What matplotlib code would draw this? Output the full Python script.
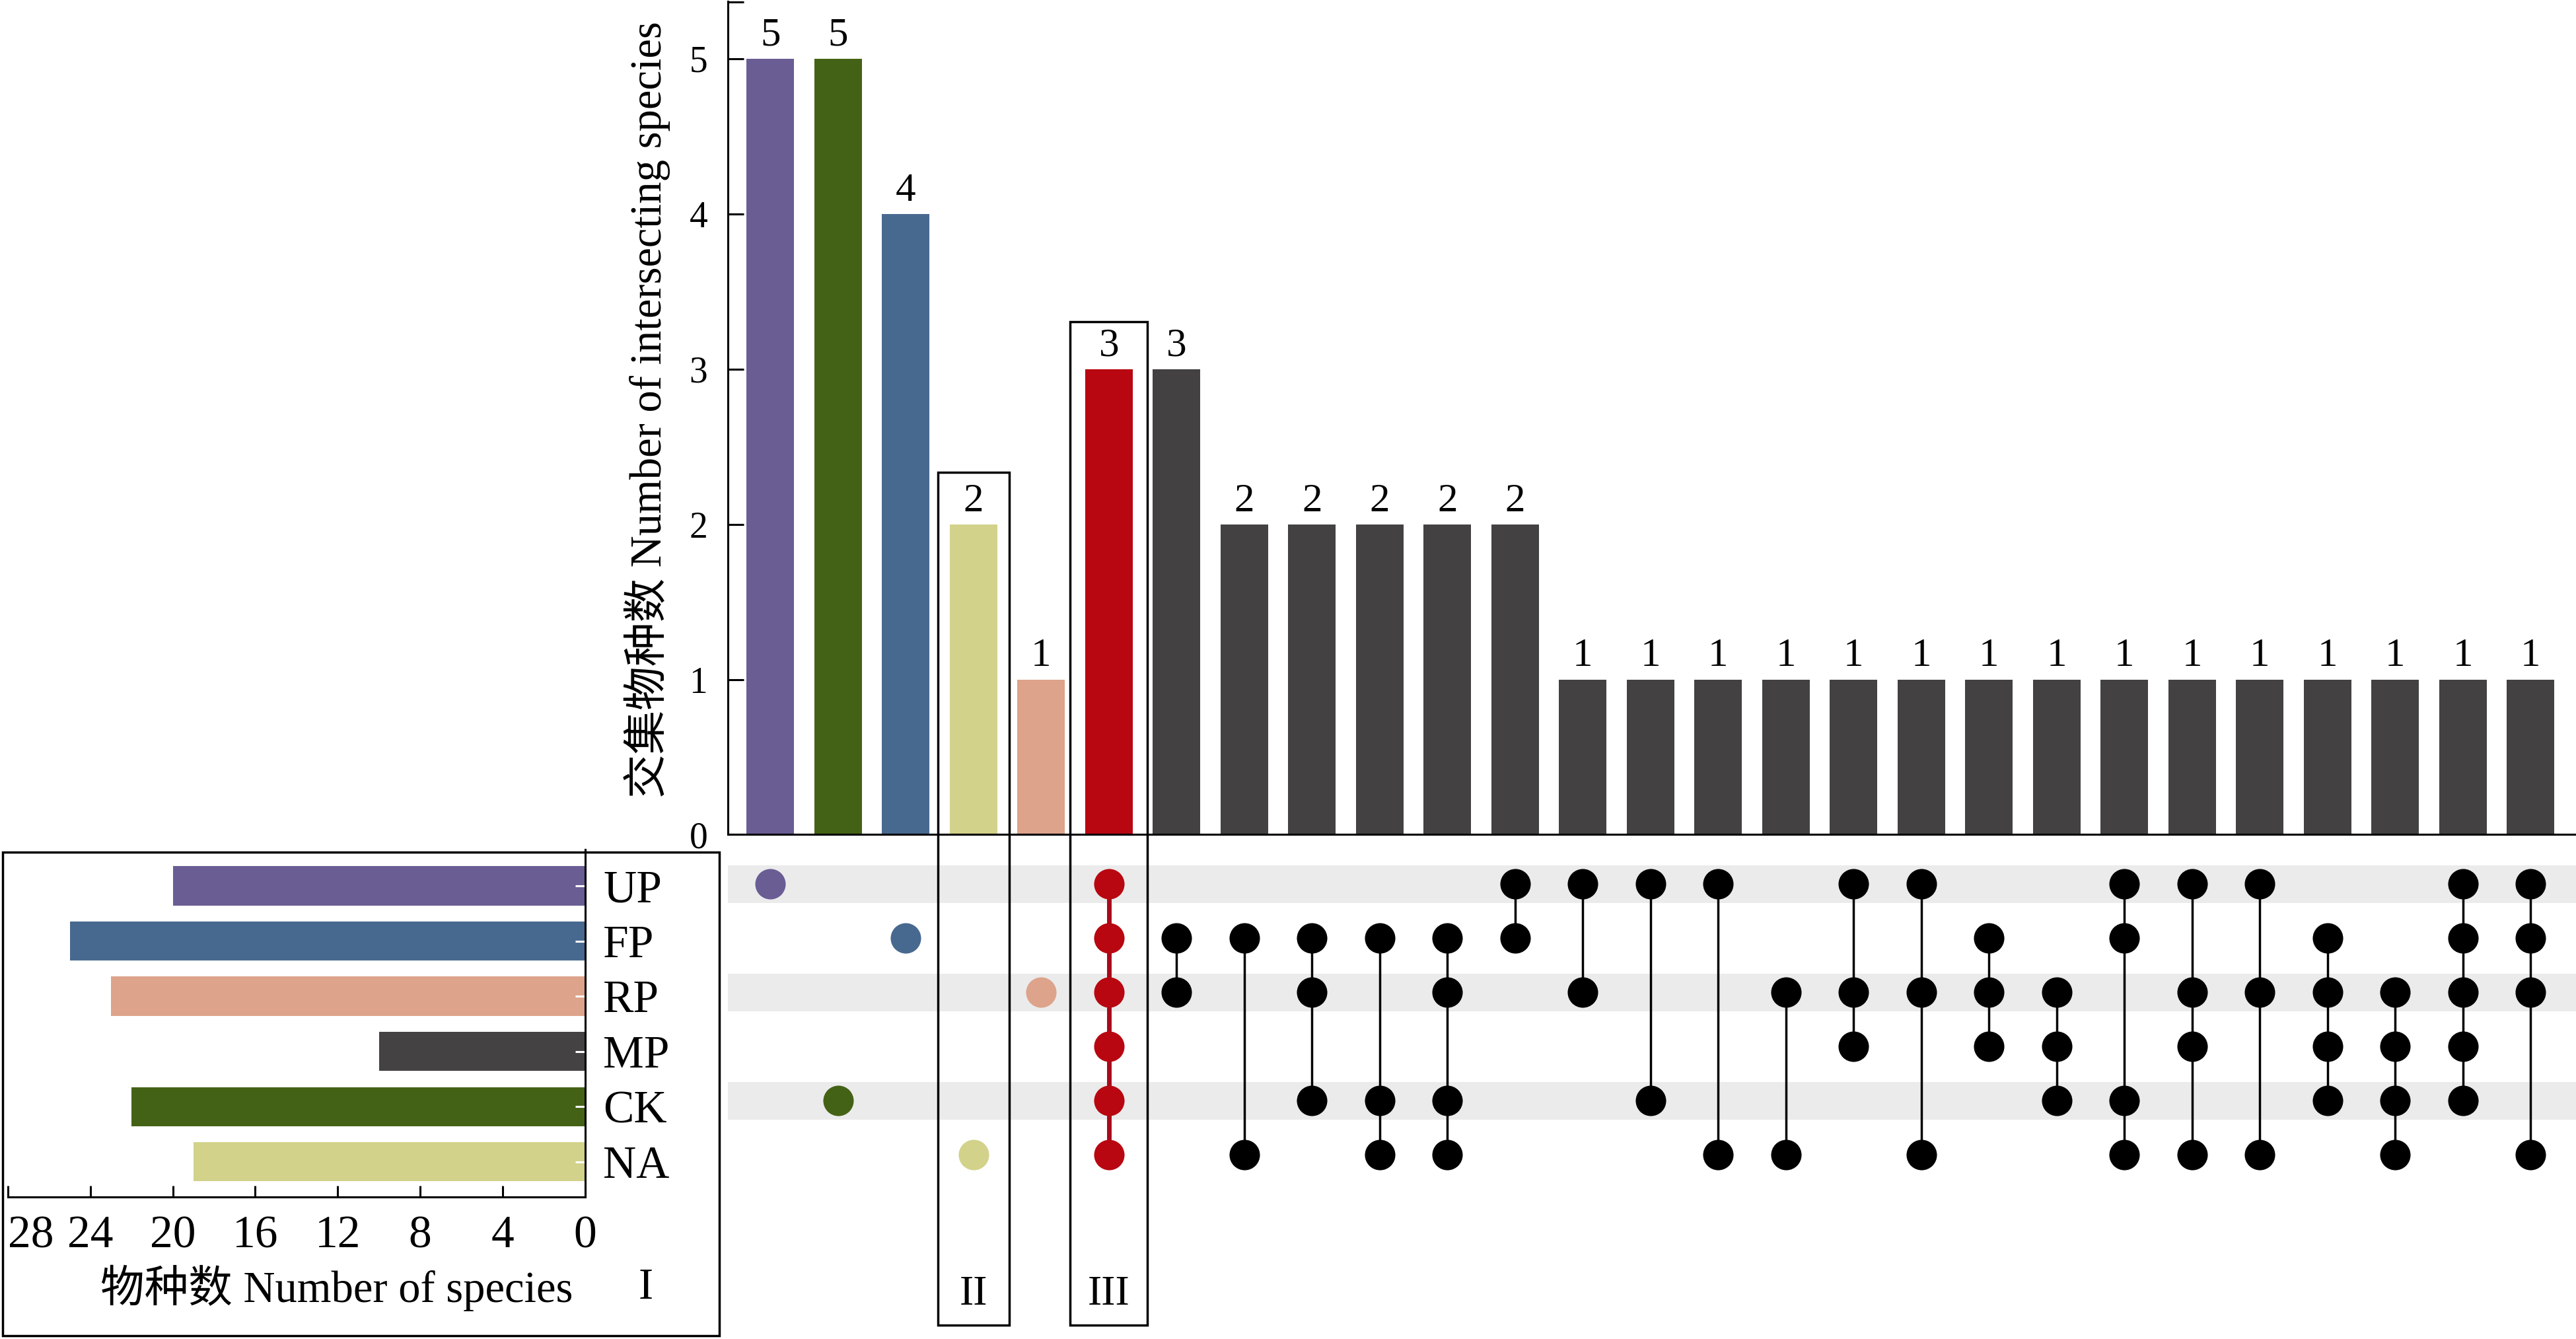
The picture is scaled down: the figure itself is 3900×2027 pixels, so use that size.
import numpy as np
import matplotlib.pyplot as plt
from matplotlib.patches import Rectangle
from matplotlib.transforms import blended_transform_factory

plt.rcParams['font.family'] = ['Liberation Serif', 'Noto Sans CJK SC']
plt.rcParams['axes.linewidth'] = 2.2

# sets (matrix rows) and their sizes
sets = ['UP', 'FP', 'RP', 'MP', 'CK', 'NA']
set_sizes = [20, 25, 23, 10, 22, 19]
set_colors = ['#6a5d94', '#48698f', '#dda38b', '#444243', '#446215', '#d2d28a']

# intersections (columns) and their sizes
members = [
    ['UP'], ['CK'], ['FP'], ['NA'], ['RP'],
    ['UP', 'FP', 'RP', 'MP', 'CK', 'NA'],
    ['FP', 'RP'], ['FP', 'NA'], ['FP', 'RP', 'CK'], ['FP', 'CK', 'NA'],
    ['FP', 'RP', 'CK', 'NA'], ['UP', 'FP'],
    ['UP', 'RP'], ['UP', 'CK'], ['UP', 'NA'], ['RP', 'NA'],
    ['UP', 'RP', 'MP'], ['UP', 'RP', 'NA'],
    ['FP', 'RP', 'MP'], ['RP', 'MP', 'CK'], ['UP', 'FP', 'CK', 'NA'],
    ['UP', 'RP', 'MP', 'NA'],
    ['UP', 'RP', 'NA'], ['FP', 'RP', 'MP', 'CK'], ['RP', 'MP', 'CK', 'NA'],
    ['UP', 'FP', 'RP', 'MP', 'CK'],
    ['UP', 'FP', 'RP', 'NA'],
]
counts = [5, 5, 4, 2, 1, 3, 3, 2, 2, 2, 2, 2] + [1] * 15

red = '#b80710'
gray = '#434142'

bar_colors = []
dot_colors = []
for m in members:
    if len(m) == 1:
        bar_colors.append(set_colors[sets.index(m[0])])
        dot_colors.append(set_colors[sets.index(m[0])])
    elif len(m) == len(sets):
        bar_colors.append(red)
        dot_colors.append(red)
    else:
        bar_colors.append(gray)
        dot_colors.append('black')

fig = plt.figure(figsize=(39, 20.27), dpi=100)
x = np.arange(len(counts))

# --- top: intersection sizes
ax_bar = fig.add_axes([0.2825, 0.3767, 0.7175, 0.6223])
ax_bar.bar(x, counts, width=0.7, color=bar_colors)
ax_bar.set_xlim(-0.63, 26.67)
ax_bar.set_ylim(0, 5.37)
ax_bar.spines['top'].set_visible(False)
ax_bar.spines['right'].set_visible(False)
ax_bar.set_xticks([])
ax_bar.set_yticks(range(6))
ax_bar.set_yticks([5.365], minor=True)
ax_bar.tick_params(axis='y', which='both', direction='in', length=17, width=2.2, pad=22, labelsize=40)
for xi, c in zip(x, counts):
    ax_bar.text(xi, c + 0.03, str(c), ha='center', va='bottom', fontsize=44)
fig.text(0.2513, 0.694, '交集物种数 Number of intersecting species',
         rotation=90, ha='center', va='center', fontsize=48)

# --- matrix
ax_m = fig.add_axes([0.2825, 0.1104, 0.7175, 0.2577])
ax_m.set_xlim(-0.63, 26.67)
ax_m.set_ylim(5.67, -0.70)
for i in range(0, len(sets), 2):
    ax_m.axhspan(i - 0.35, i + 0.35, color='#ebebeb', zorder=0, lw=0)
for j, m in enumerate(members):
    ys = [sets.index(s) for s in m]
    if len(ys) > 1:
        lw = 5 if len(m) == len(sets) else 2.5
        lc = '#a80a1a' if len(m) == len(sets) else 'black'
        ax_m.plot([j, j], [min(ys), max(ys)], color=lc, lw=lw, zorder=2)
    ax_m.scatter([j] * len(ys), ys, s=1100, color=dot_colors[j], zorder=3, lw=0)
ax_m.axis('off')

# --- left: set sizes
ax_l = fig.add_axes([0.00306, 0.106, 0.2240, 0.2596])
ax_l.barh(range(len(sets)), set_sizes, height=0.71, color=set_colors)
ax_l.set_xlim(28, 0)
ax_l.set_ylim(5.64, -0.66)
ax_l.spines['top'].set_visible(False)
ax_l.spines['left'].set_visible(False)
ax_l.yaxis.tick_right()
ax_l.set_yticks(range(len(sets)))
ax_l.set_yticklabels(sets)
ax_l.set_xticks(range(0, 29, 4))
ax_l.tick_params(axis='y', direction='in', color='white', length=11, width=2.2, pad=20, labelsize=50)
ax_l.tick_params(axis='x', direction='in', length=12, width=2.2, pad=20, labelsize=50)
ax_l.get_xticklabels()[-1].set_horizontalalignment('left')
fig.text(0.1307, 0.038, '物种数 Number of species', ha='center', va='center', fontsize=48)
fig.text(0.2506, 0.038, 'I', ha='center', va='center', fontsize=48)

# --- frames
fig.add_artist(Rectangle((0.0009, 0.0025), 0.2784, 0.3612, transform=fig.transFigure,
                         fill=False, lw=2.5, color='black'))
tr = blended_transform_factory(ax_bar.transData, fig.transFigure)
fig.add_artist(Rectangle((3 - 0.53, 0.0103), 1.06, 0.6369, transform=tr,
                         fill=False, lw=2.5, color='black'))
fig.add_artist(Rectangle((5 - 0.57, 0.0103), 1.14, 0.7492, transform=tr,
                         fill=False, lw=2.5, color='black'))
fig.text(3, 0.033, 'II', transform=tr, ha='center', va='center', fontsize=46)
fig.text(5, 0.033, 'III', transform=tr, ha='center', va='center', fontsize=46)

fig.savefig('out.png', dpi=100)
